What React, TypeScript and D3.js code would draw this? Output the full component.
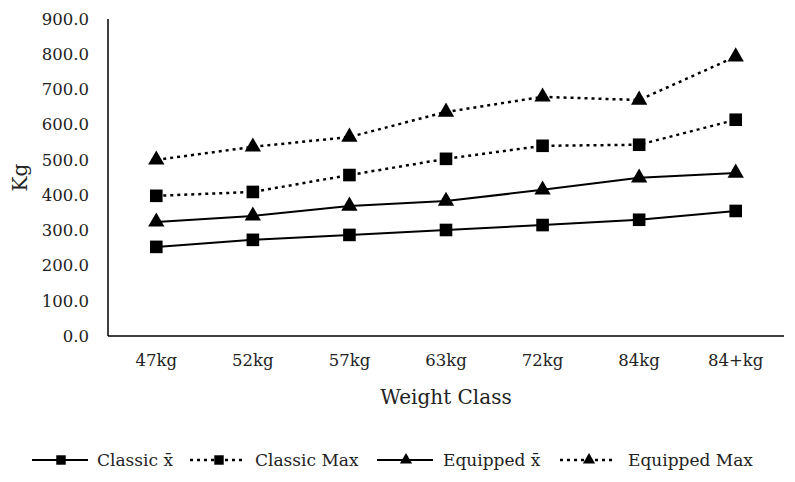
import * as d3 from "d3";
import React from "react";

const categories = ["47kg", "52kg", "57kg", "63kg", "72kg", "84kg", "84+kg"];
const classicMean = [253, 273, 287, 301, 315, 330, 355];
const classicMax = [398, 409, 457, 503, 540, 543, 614];
const equippedMean = [324, 341, 369, 383, 415, 449, 463];
const equippedMax = [500, 537, 565, 636, 679, 670, 793];
const yTicks = [0, 100, 200, 300, 400, 500, 600, 700, 800, 900];

interface Series {
  name: string;
  values: number[];
  dotted: boolean;
  marker: "square" | "triangle";
}

const series: Series[] = [
  { name: "Classic x\u0304", values: classicMean, dotted: false, marker: "square" },
  { name: "Classic Max", values: classicMax, dotted: true, marker: "square" },
  { name: "Equipped x\u0304", values: equippedMean, dotted: false, marker: "triangle" },
  { name: "Equipped Max", values: equippedMax, dotted: true, marker: "triangle" },
];

const width = 795;
const height = 482;
const margin = { top: 19, right: 11, bottom: 146, left: 108 };
const font = "'DejaVu Serif', 'Liberation Serif', serif";
const dash = "3,4";
const textColor = "#222";

function Marker({ kind, x, y, s = 1 }: { kind: string; x: number; y: number; s?: number }) {
  if (kind === "square") {
    const h = 6.3 * s;
    return <rect x={x - h} y={y - h} width={2 * h} height={2 * h} fill="#000" />;
  }
  const tri = d3.symbol(d3.symbolTriangle, 115 * s * s)() || "";
  return <path d={tri} transform={`translate(${x},${y})`} fill="#000" />;
}

const App: React.FC = () => {
  const x = d3
    .scaleBand()
    .domain(categories)
    .range([margin.left, width - margin.right]);
  const y = d3
    .scaleLinear()
    .domain([0, 900])
    .range([height - margin.bottom, margin.top]);
  const cx = (c: string) => (x(c) || 0) + x.bandwidth() / 2;

  const line = d3
    .line<number>()
    .x((_, i) => cx(categories[i]))
    .y((d) => y(d));

  // legend layout
  const legendY = 460;
  const legendItems = [
    { lx: 32, tx: 97 },
    { lx: 190, tx: 255 },
    { lx: 377, tx: 443 },
    { lx: 560, tx: 628 },
  ];

  return (
    <svg
      width={width}
      height={height}
      style={{ position: "absolute", left: 0, top: 0, background: "#fff" }}
      fontFamily={font}
    >
      {/* y tick labels */}
      {yTicks.map((t) => (
        <text
          key={t}
          x={89}
          y={y(t)}
          dy="0.35em"
          textAnchor="end"
          fontSize={16.5}
          fill={textColor}
        >
          {t.toFixed(1)}
        </text>
      ))}
      {/* axes */}
      <line
        x1={margin.left}
        x2={margin.left}
        y1={y(900)}
        y2={y(0)}
        stroke="#000"
        strokeWidth={1.5}
      />
      <line
        x1={margin.left}
        x2={width - margin.right}
        y1={y(0)}
        y2={y(0)}
        stroke="#000"
        strokeWidth={1.5}
      />
      {/* x tick labels */}
      {categories.map((c) => (
        <text
          key={c}
          x={cx(c)}
          y={366}
          textAnchor="middle"
          fontSize={16.5}
          fill={textColor}
        >
          {c}
        </text>
      ))}
      {/* titles */}
      <text x={446} y={404} textAnchor="middle" fontSize={20} fill={textColor}>
        Weight Class
      </text>
      <text
        transform={`translate(27,${(y(0) + y(900)) / 2}) rotate(-90)`}
        textAnchor="middle"
        fontSize={20}
        fill={textColor}
      >
        Kg
      </text>
      {/* series */}
      {series.map((s) => (
        <g key={s.name}>
          <path
            d={line(s.values) || ""}
            fill="none"
            stroke="#000"
            strokeWidth={s.dotted ? 2.5 : 2}
            strokeDasharray={s.dotted ? dash : undefined}
          />
          {s.values.map((v, i) => (
            <Marker key={i} kind={s.marker} x={cx(categories[i])} y={y(v)} />
          ))}
        </g>
      ))}
      {/* legend */}
      {series.map((s, i) => {
        const { lx, tx } = legendItems[i];
        return (
          <g key={s.name}>
            <line
              x1={lx}
              x2={lx + 56}
              y1={legendY}
              y2={legendY}
              stroke="#000"
              strokeWidth={s.dotted ? 2.5 : 2}
              strokeDasharray={s.dotted ? dash : undefined}
            />
            <Marker kind={s.marker} x={lx + 29} y={legendY} s={0.75} />
            <text x={tx} y={legendY} dy="0.35em" fontSize={17} fill={textColor}>
              {s.name}
            </text>
          </g>
        );
      })}
    </svg>
  );
};

export default App;
